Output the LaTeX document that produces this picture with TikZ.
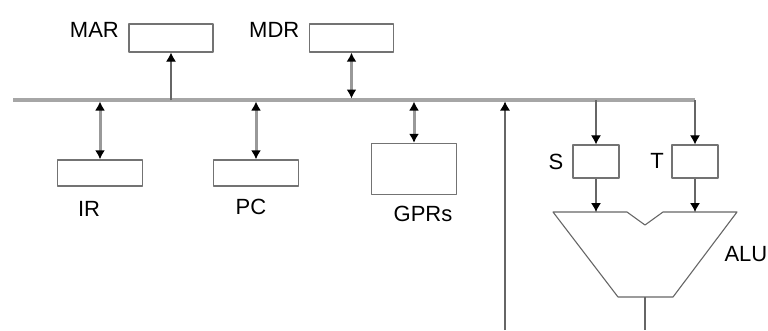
\documentclass[tikz,border=0pt]{standalone}
\usepackage{fontspec}
\setmainfont{Liberation Sans}
\usetikzlibrary{arrows.meta}
\begin{document}
\begin{tikzpicture}[x=1pt, y=-1pt, font=\fontsize{22}{24}\selectfont, line join=round,
  >={Latex[length=9pt,width=10pt,black]},
  reg/.style={draw=black!55, line width=1.3pt, rectangle, inner sep=0pt},
  bus/.style={draw=black!35, line width=3.5pt},
  wire/.style={draw=black!60, line width=1.1pt},
  link/.style={draw=black!40, line width=3pt, shorten <=1.5pt}]
	\useasboundingbox (0,0) rectangle (768,330);
	% registers
	\node[reg, minimum width=84pt, minimum height=28pt] (mar) at (171,38) {};
	\node[reg, minimum width=84pt, minimum height=28pt] (mdr) at (351.5,38) {};
	\node[reg, minimum width=85pt, minimum height=26pt] (ir) at (100,173) {};
	\node[reg, minimum width=85pt, minimum height=26pt] (pc) at (256,173) {};
	\node[reg, minimum width=85pt, minimum height=51pt] (gprs) at (414,169) {};
	\node[reg, minimum width=46pt, minimum height=33pt] (s) at (596,161.5) {};
	\node[reg, minimum width=46pt, minimum height=33pt] (t) at (695,161.5) {};
	% labels
	\node[anchor=east] at ([xshift=-6pt,yshift=8pt]mar.west) {MAR};
	\node[anchor=east] at ([xshift=-6pt,yshift=8pt]mdr.west) {MDR};
	\node at (89,209) {IR};
	\node at (251,207) {PC};
	\node at (423,214) {GPRs};
	\node at (556,162) {S};
	\node at (657,161) {T};
	\node[anchor=west] at (721,254) {ALU};
	% bus
	\coordinate (busW) at (13,100);
	\coordinate (busE) at (t.north |- busW);
	\draw[bus] (busW) -- (busE);
	\draw[wire,->] (mar.south |- busW) -- (mar.south);
	\draw[link,<->] (mdr.south |- busW) -- (mdr.south);
	\draw[link,<->] (ir.north |- busW) -- (ir.north);
	\draw[link,<->] (pc.north |- busW) -- (pc.north);
	\draw[link,<->] (gprs.north |- busW) -- (gprs.north);
	\draw[wire,->] (s.north |- busW) -- (s.north);
	\draw[wire,->] (busE) -- (t.north);
	% ALU
	\coordinate (aluS) at (s.south |- 0,212);
	\coordinate (aluT) at (t.south |- 0,212);
	\coordinate (aluout) at (645,297);
	\coordinate (outend) at (645,330);
	\draw[wire] (553,212) -- (627,212) -- (645,225) -- (663,212) -- (737,212)
		-- (673,297) -- (618,297) -- cycle;
	\draw[wire,->] (s.south) -- (aluS);
	\draw[wire,->] (t.south) -- (aluT);
	\draw[wire] (aluout) -- (outend);
	% feed into bus
	\coordinate (feed) at (505,330);
	\draw[wire,->, shorten >=1.5pt] (feed) -- (feed |- busW);
\end{tikzpicture}
\end{document}
